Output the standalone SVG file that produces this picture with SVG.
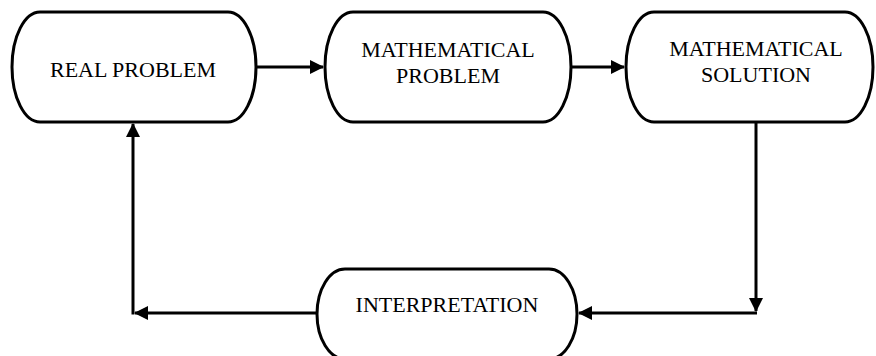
<svg xmlns="http://www.w3.org/2000/svg" width="876" height="356" viewBox="0 0 876 356">
<style>
.node{fill:#fff;stroke:#000;stroke-width:3}
.lbl{font-family:"Liberation Serif","Times New Roman",serif;font-size:22px;fill:#000;text-anchor:middle}
.edge{fill:none;stroke:#000;stroke-width:3}
</style>
<defs>
<marker id="ah" viewBox="0 0 14 14" refX="13" refY="7" markerWidth="14" markerHeight="14" markerUnits="userSpaceOnUse" orient="auto">
<path d="M0,0 L14,7 L0,14 Z" fill="#000"/>
</marker>
</defs>
<rect width="876" height="356" fill="#fff"/>
<g id="connectors">
<path class="edge" d="M256,67 H323" marker-end="url(#ah)"/>
<path class="edge" d="M571,67 H624" marker-end="url(#ah)"/>
<path class="edge" d="M756,122 V311" marker-end="url(#ah)"/>
<path class="edge" d="M757,313 H579" marker-end="url(#ah)"/>
<path class="edge" d="M317,313 H135" marker-end="url(#ah)"/>
<path class="edge" d="M133,314.5 V124" marker-end="url(#ah)"/>
</g>
<g id="real-problem">
<rect class="node" x="12" y="12" width="244" height="110" rx="28" ry="55"/>
<text class="lbl" x="133" y="77">REAL PROBLEM</text>
</g>
<g id="mathematical-problem">
<rect class="node" x="325" y="12" width="246" height="110" rx="28" ry="55"/>
<text class="lbl" x="448" y="57">MATHEMATICAL</text>
<text class="lbl" x="448" y="83">PROBLEM</text>
</g>
<g id="mathematical-solution">
<rect class="node" x="626" y="12" width="247" height="110" rx="28" ry="55"/>
<text class="lbl" x="756" y="56">MATHEMATICAL</text>
<text class="lbl" x="756" y="82">SOLUTION</text>
</g>
<g id="interpretation">
<rect class="node" x="317" y="269" width="260" height="90" rx="28" ry="45"/>
<text class="lbl" x="447" y="312">INTERPRETATION</text>
</g>
</svg>
